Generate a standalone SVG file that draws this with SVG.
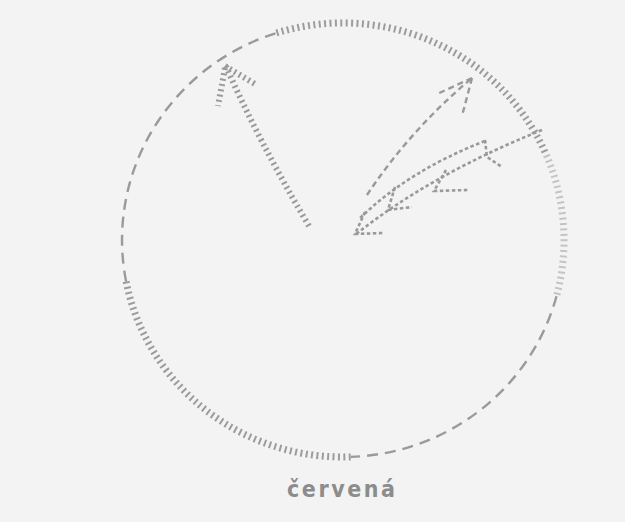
<svg xmlns="http://www.w3.org/2000/svg" width="625" height="522" viewBox="0 0 625 522">
<style>
.hatch{fill:none;stroke:#9c9c9c;stroke-width:7;stroke-dasharray:2 3.4}
.faint{fill:none;stroke:#c4c4c4;stroke-width:7;stroke-dasharray:2 3.4}
.long{fill:none;stroke:#9a9a9a;stroke-width:2.4;stroke-dasharray:11 7}
.ahatch{fill:none;stroke:#9a9a9a;stroke-width:6;stroke-dasharray:2 3.4}
.adash{fill:none;stroke:#9a9a9a;stroke-width:2.4;stroke-dasharray:6 4}
.adot{fill:none;stroke:#9a9a9a;stroke-width:2.6;stroke-dasharray:3.5 2.5}
.label{font-family:"DejaVu Sans Condensed","Liberation Sans Narrow","Liberation Sans",sans-serif;font-size:23px;font-weight:bold;fill:#8c8c8c}
</style>
<rect width="625" height="522" fill="#f3f3f3"/>
<g id="circle">
<path class="hatch" d="M276.5,33 A221,217 0 0 1 546.4,155.2"/>
<path class="faint" d="M546.4,155.2 A221,217 0 0 1 556.5,296.2"/>
<path class="long" d="M556.5,296.2 A221,217 0 0 1 350.7,456.9"/>
<path class="hatch" d="M350.7,456.9 A221,217 0 0 1 126.1,281.4"/>
<path class="long" d="M126.1,281.4 A221,217 0 0 1 276.5,33"/>
</g>
<g id="connectors">
<path class="ahatch" d="M309,226 Q258,140 225,64"/>
<path class="ahatch" d="M225,66 L255,84 M225,68 L218,106"/>
<path class="adash" d="M367,195 Q410,130 472,78"/>
<path class="adash" d="M472,78 L437,94 M472,78 L462,116"/>
<path class="adot" d="M542,130 Q430,175 355,235"/>
<path class="adot" d="M485,141 Q410,170 360,218"/>
<path class="adot" d="M485,140 L487,157 L502,167"/>
<path class="adot" d="M446,170 L434,191 L468,190"/>
<path class="adot" d="M395,187 L388,210 L412,207"/>
<path class="adot" d="M365,212 L355,234 L383,233"/>
</g>
<g id="label">
<text class="label" x="287" y="497" textLength="108" lengthAdjust="spacing">červená</text>
</g>
</svg>
